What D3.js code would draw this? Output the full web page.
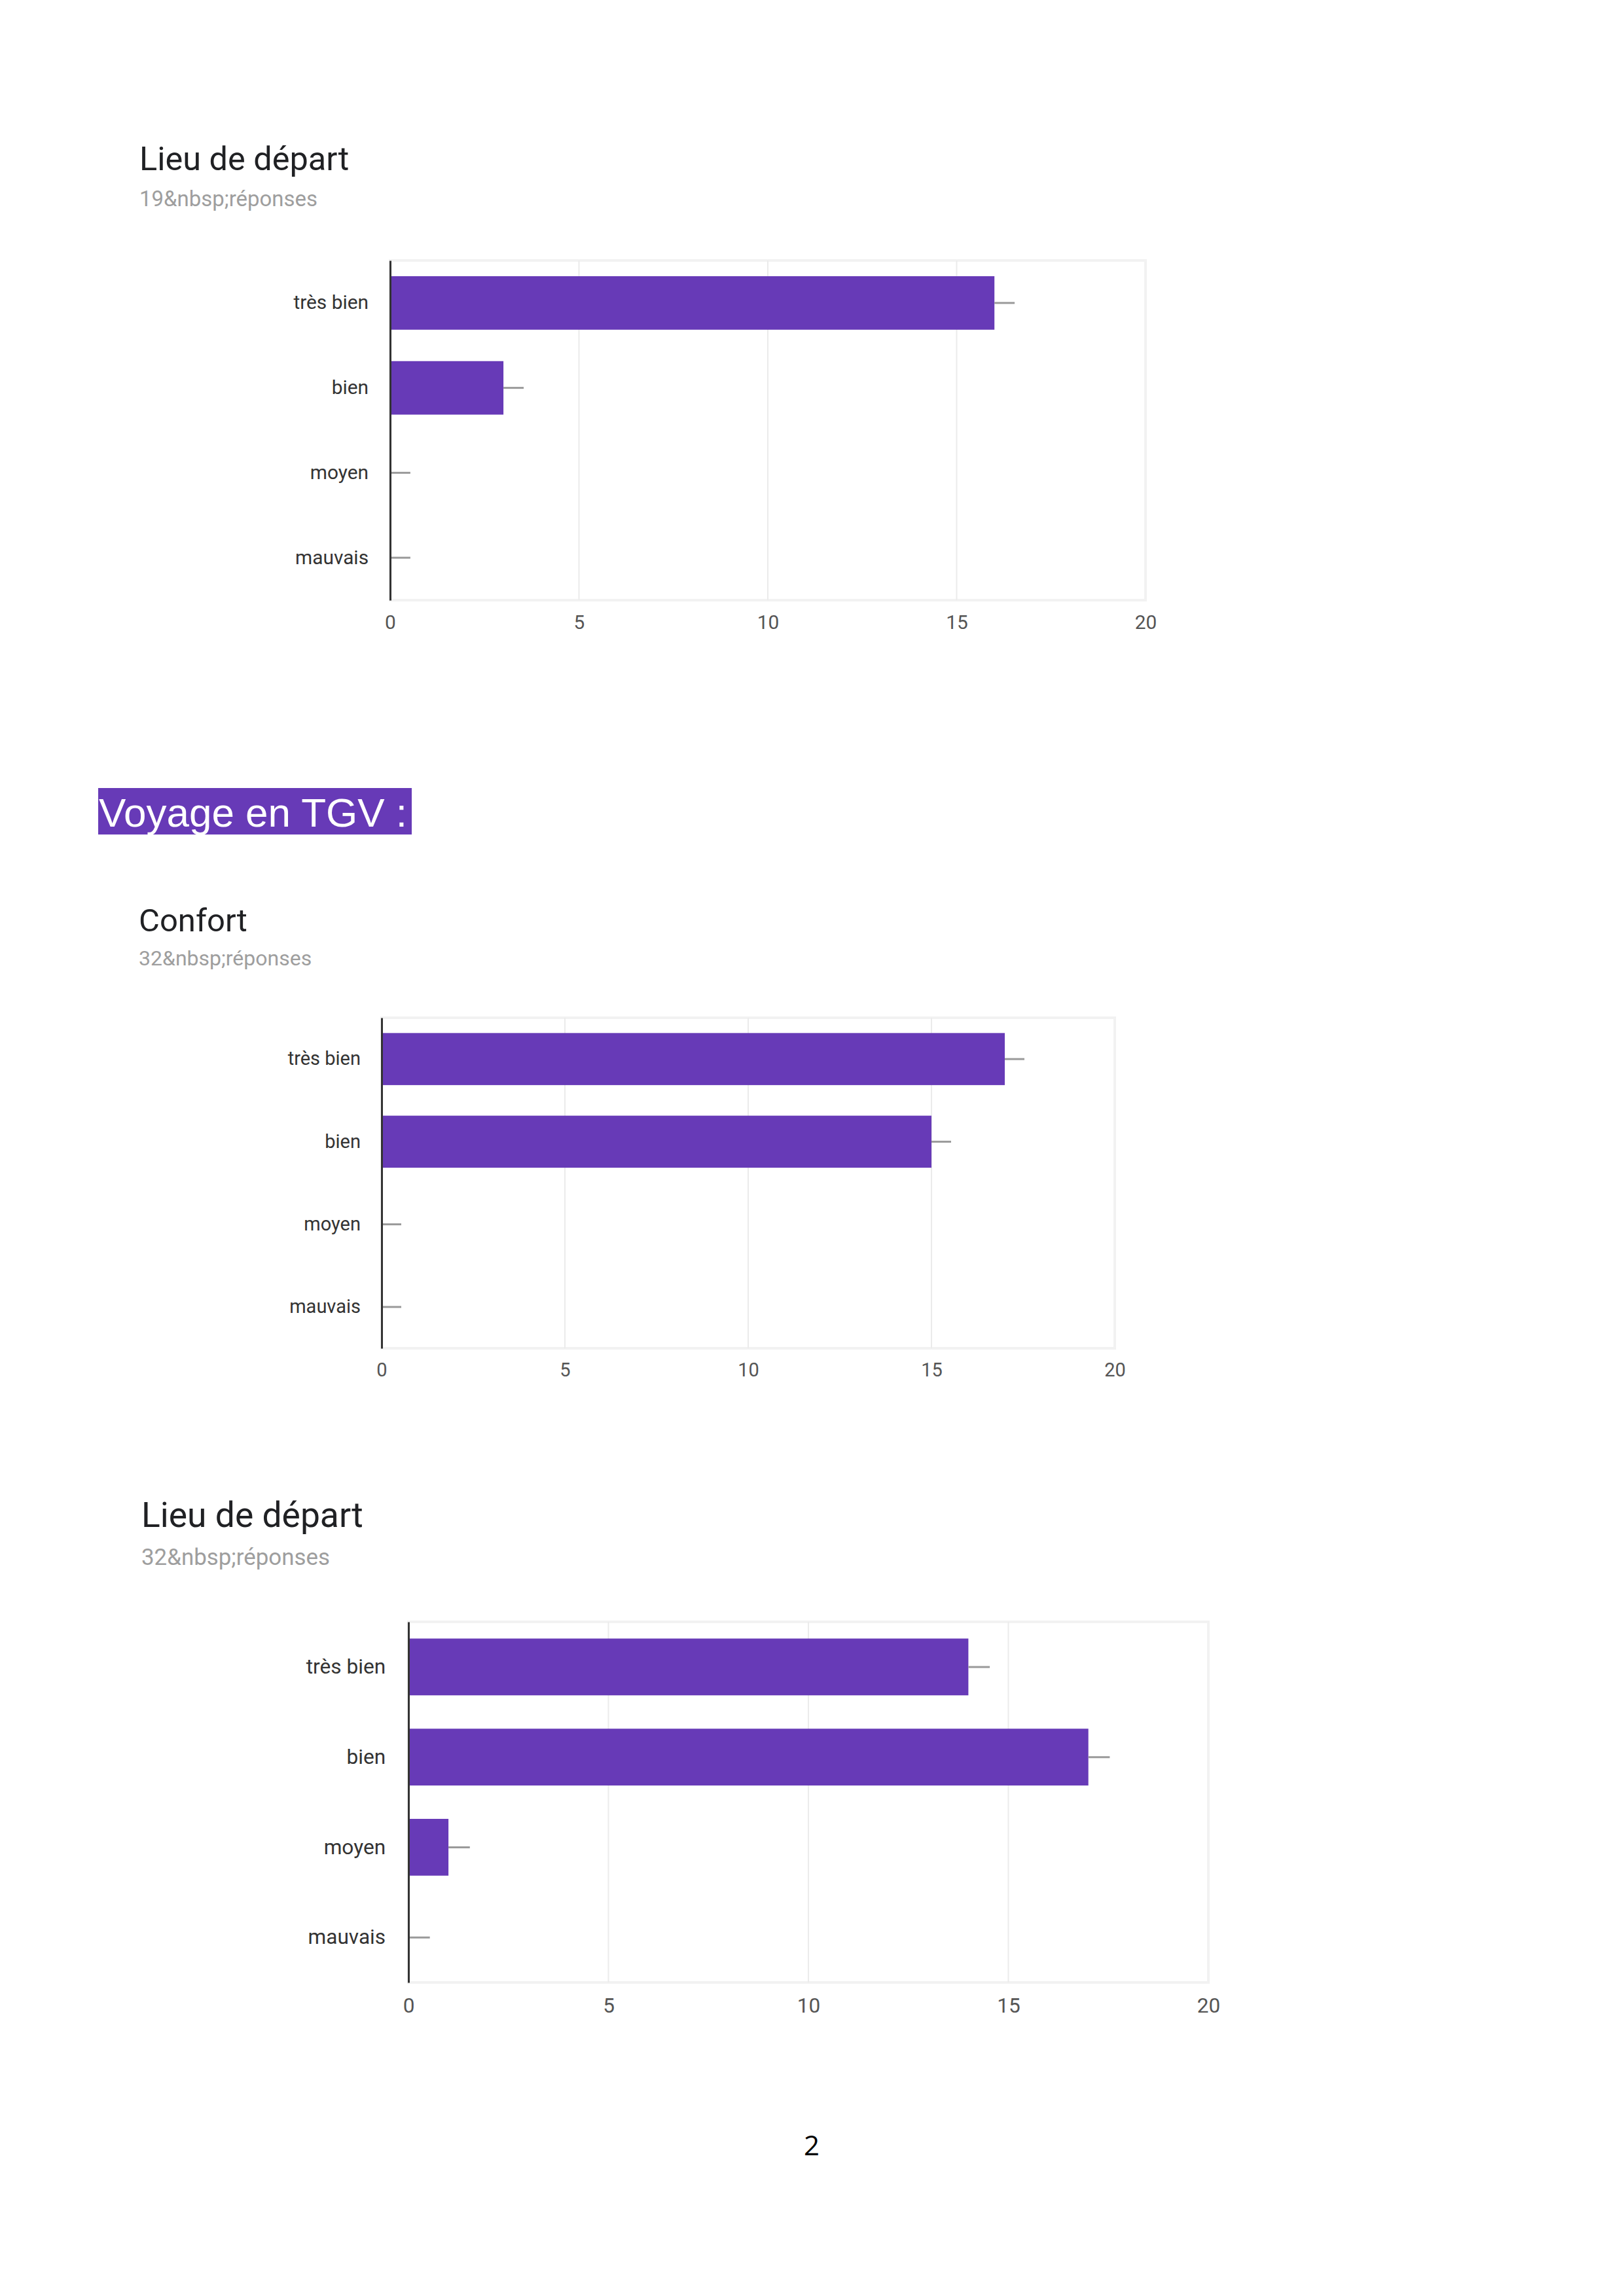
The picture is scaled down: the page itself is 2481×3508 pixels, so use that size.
<!DOCTYPE html>
<html>
<head>
<meta charset="utf-8">
<script src="https://cdn.jsdelivr.net/npm/d3@7"></script>
<style>
  html, body { margin:0; padding:0; background:#fff; }
  svg { display:block; }
</style>
</head>
<body>
<svg id="page" width="2481" height="3508"></svg>
<script>
/* answer categories, same on every chart */
var categories = ["très bien", "bien", "moyen", "mauvais"];

/* counts */
var departValues1 = [16, 3, 0, 0];
var confortValues = [17, 15, 0, 0];
var departValues2 = [14, 17, 1, 0];

var xTicks = [0, 5, 10, 15, 20];
var xMax = 20;

var titles = ["Lieu de départ", "Confort", "Lieu de départ"];
var subtitles = ["19&nbsp;réponses", "32&nbsp;réponses", "32&nbsp;réponses"];

var PURPLE = "#673ab7";

/* page placement of each block */
var blocks = [
  {values:departValues1, title:titles[0], sub:subtitles[0], s:1.03,
   tx:213, ty:260, sy:315, x0:596, x1:1750, top:398, bottom:917},
  {values:confortValues, title:titles[1], sub:subtitles[1], s:1.0,
   tx:212, ty:1423, sy:1475, x0:583, x1:1703, top:1555, bottom:2060},
  {values:departValues2, title:titles[2], sub:subtitles[2], s:1.09,
   tx:216, ty:2333, sy:2391, x0:624, x1:1846, top:2478, bottom:3029}
];

var svg = d3.select("#page");

function drawBlock(b){
  var g = svg.append("g").attr("class", "block");
  var s = b.s;

  g.append("text")
    .attr("x", b.tx).attr("y", b.ty)
    .attr("font-family", "Roboto")
    .attr("font-size", 49*s)
    .attr("fill", "#202124")
    .text(b.title);

  g.append("text")
    .attr("x", b.tx).attr("y", b.sy)
    .attr("font-family", "Roboto")
    .attr("font-size", 32*s)
    .attr("fill", "#9e9e9e")
    .text(b.sub);

  var x = d3.scaleLinear().domain([0, xMax]).range([b.x0, b.x1]);
  var y = d3.scaleBand().domain(categories).range([b.top, b.bottom])
      .paddingInner(0.37).paddingOuter(0.185);

  // frame
  g.append("rect")
    .attr("x", b.x0).attr("y", b.top)
    .attr("width", b.x1 - b.x0).attr("height", b.bottom - b.top)
    .attr("fill", "none").attr("stroke", "#f2f2f2").attr("stroke-width", 4);

  // vertical grid
  g.append("g").selectAll("line")
    .data(xTicks.slice(1, -1))
    .join("line")
    .attr("x1", function(d){ return x(d); }).attr("x2", function(d){ return x(d); })
    .attr("y1", b.top).attr("y2", b.bottom)
    .attr("stroke", "#ebebeb").attr("stroke-width", 2);

  // bars
  g.append("g").selectAll("rect")
    .data(b.values)
    .join("rect")
    .attr("x", x(0))
    .attr("y", function(d, i){ return y(categories[i]); })
    .attr("width", function(d){ return x(d) - x(0); })
    .attr("height", y.bandwidth())
    .attr("fill", PURPLE);

  // little whiskers after each bar end
  g.append("g").selectAll("line")
    .data(b.values)
    .join("line")
    .attr("x1", function(d){ return x(d); })
    .attr("x2", function(d){ return x(d) + 30*s; })
    .attr("y1", function(d, i){ return y(categories[i]) + y.bandwidth()/2; })
    .attr("y2", function(d, i){ return y(categories[i]) + y.bandwidth()/2; })
    .attr("stroke", "#9a9a9a").attr("stroke-width", 3);

  // x axis labels
  var xa = g.append("g")
    .attr("transform", "translate(0," + b.bottom + ")")
    .call(d3.axisBottom(x).tickValues(xTicks).tickSize(0).tickPadding(22*s));
  xa.select(".domain").remove();
  xa.selectAll("text")
    .attr("font-family", "Roboto")
    .attr("font-size", 29*s)
    .attr("fill", "#555");

  // y axis
  var ya = g.append("g")
    .attr("transform", "translate(" + b.x0 + ",0)")
    .call(d3.axisLeft(y).tickSize(0).tickPadding(32*s));
  ya.select(".domain")
    .attr("stroke", "#333").attr("stroke-width", 3);
  ya.selectAll("text")
    .attr("font-family", "Roboto")
    .attr("font-size", 29*s)
    .attr("fill", "#333");
}

// section heading
svg.append("rect")
  .attr("x", 150).attr("y", 1204)
  .attr("width", 479).attr("height", 71)
  .attr("fill", PURPLE);
svg.append("text")
  .attr("x", 151).attr("y", 1263)
  .attr("font-family", "Liberation Sans, Arial")
  .attr("font-size", 62)
  .attr("fill", "#fff")
  .text("Voyage en TGV :");

blocks.forEach(drawBlock);

// page number
svg.append("text")
  .attr("x", 1240).attr("y", 3293)
  .attr("text-anchor", "middle")
  .attr("font-family", "Open Sans")
  .attr("font-size", 42)
  .attr("fill", "#000")
  .text("2");
</script>
</body>
</html>
